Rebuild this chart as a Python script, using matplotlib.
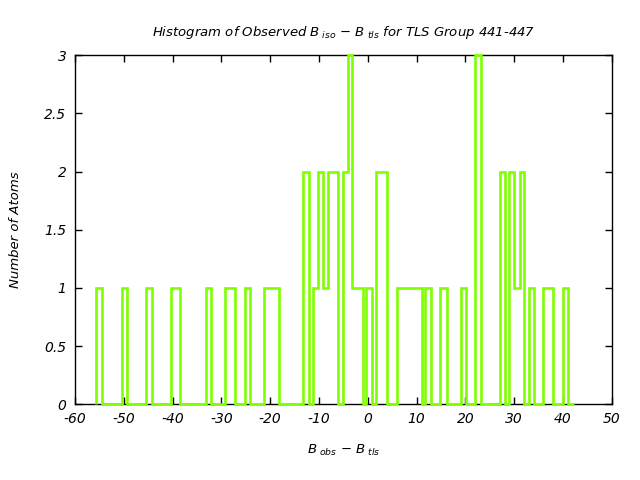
import numpy as np
import matplotlib
matplotlib.use("Agg")
from matplotlib import pyplot as plt

# bin edges and atom counts
edges = [-55.6, -54.5, -50.4, -49.4, -45.4, -44.2, -40.3, -38.4, -33.2, -32.2,
         -29.2, -27.2, -25.2, -24.1, -21.2, -18.1, -13.2, -12.1, -11.2, -10.1,
         -9.1, -8.1, -6.0, -5.1, -4.1, -3.2, -0.9, -0.3, 0.9, 1.7,
         3.9, 5.9, 11.1, 11.8, 12.9, 14.8, 16.2, 19.0, 20.1, 22.0,
         23.2, 27.0, 28.2, 29.0, 29.9, 31.1, 32.1, 33.0, 34.1, 36.0,
         38.0, 40.0, 41.1, 42.3]
counts = [1, 0, 1, 0, 1, 0, 1, 0, 1, 0, 1, 0, 1, 0, 1, 0,
          2, 0, 1, 2, 1, 2, 0, 2, 3, 1, 0, 1, 0, 2, 0,
          1, 0, 1, 0, 1, 0, 1, 0, 3, 0,
          2, 0, 2, 1, 2, 0, 1, 0, 1, 0, 1, 0]

xticks = [-60, -50, -40, -30, -20, -10, 0, 10, 20, 30, 40, 50]
yticks = [0, 0.5, 1, 1.5, 2, 2.5, 3]
ytick_labels = ["0", "0.5", "1", "1.5", "2", "2.5", "3"]

fig = plt.figure(figsize=(6.4, 4.8), dpi=100)
ax = fig.add_axes([0.117, 0.158, 0.839, 0.727])

ax.stairs(counts, edges, baseline=0, color="#7fff00", linewidth=1.9,
          clip_on=False, zorder=5)

ax.set_xlim(-60, 50)
ax.set_ylim(0, 3)
ax.set_xticks(xticks)
ax.set_xticklabels([str(t) for t in xticks], fontsize=10, style="italic")
ax.set_yticks(yticks)
ax.set_yticklabels(ytick_labels, fontsize=10, style="italic")
ax.tick_params(direction="in", top=True, right=True, length=5, width=1, pad=6)
for s in ax.spines.values():
    s.set_linewidth(1)

ax.set_title(r"Histogram of Observed $B_{\ iso}$ $-$ $B_{\ tls}$ for TLS Group 441-447",
             fontsize=9.5, style="italic", pad=14)
ax.set_xlabel(r"$B_{\ obs}$ $-$ $B_{\ tls}$", fontsize=9.5, labelpad=12)
ax.set_ylabel("Number of Atoms", fontsize=9.5, style="italic", labelpad=16)

fig.savefig("out.png", dpi=100)
